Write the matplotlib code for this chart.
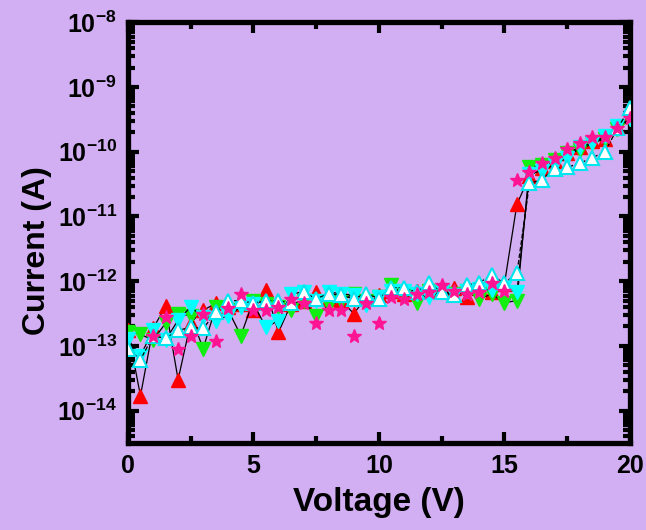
import numpy as np
import matplotlib
matplotlib.use('Agg')
import matplotlib.pyplot as plt
from matplotlib.ticker import FixedLocator, MultipleLocator, NullFormatter

plt.rcParams['font.family'] = ['Liberation Sans', 'DejaVu Sans']
plt.rcParams['mathtext.fontset'] = 'custom'
plt.rcParams['mathtext.rm'] = 'Liberation Sans:bold'
plt.rcParams['mathtext.bf'] = 'Liberation Sans:bold'
plt.rcParams['mathtext.default'] = 'bf'

# voltage sweep, 0.5 V steps
voltage = np.arange(0, 20.01, 0.5)

# log10(current)
red_up = [-12.76, -13.77, -12.73, -12.39, -13.52, -12.64, -12.45, -12.34, -12.40, -12.35,
          -12.45, -12.14, -12.79, -12.35, -12.30, -12.17, -12.28, -12.30, -12.50, -12.25,
          -12.22, -12.15, -12.20, -12.15, -12.15, -12.10, -12.10, -12.25, -12.10, -12.17,
          -12.05, -10.81, -10.38, -10.25, -10.15, -10.02, -9.93, -9.83, -9.80, -9.62, -9.45]
green_down = [-12.78, -12.82, -12.91, -12.65, -12.51, -12.53, -13.04, -12.40, -12.45, -12.84,
              -12.30, -12.35, -12.40, -12.45, -12.30, -12.54, -12.37, -12.30, -12.19, -12.30,
              -12.25, -12.06, -12.20, -12.33, -12.15, -12.15, -12.20, -12.15, -12.27, -12.20,
              -12.33, -12.30, -10.24, -10.20, -10.12, -10.02, -9.98, -9.87, -9.80, -9.65, -9.50]
cyan_down = [-12.90, -13.15, -12.76, -12.91, -12.60, -12.40, -12.55, -12.61, -12.53, -12.40,
             -12.35, -12.71, -12.61, -12.19, -12.17, -12.30, -12.17, -12.19, -12.22, -12.37,
             -12.25, -12.15, -12.15, -12.20, -12.25, -12.15, -12.22, -12.15, -12.12, -12.14,
             -12.11, -12.17, -10.35, -10.29, -10.20, -10.09, -9.92, -9.87, -9.75, -9.60, -9.50]
white_up = [-13.05, -13.21, -12.85, -12.88, -12.76, -12.71, -12.73, -12.48, -12.30, -12.30,
            -12.34, -12.30, -12.30, -12.34, -12.17, -12.27, -12.19, -12.22, -12.27, -12.19,
            -12.27, -12.10, -12.10, -12.17, -12.03, -12.17, -12.22, -12.06, -12.02, -11.91,
            -12.03, -11.88, -10.49, -10.43, -10.26, -10.24, -10.18, -10.09, -10.01, -9.64, -9.33]
pink_star = [np.nan, np.nan, -12.84, -12.56, -13.05, -12.85, -12.50, -12.93, -12.42, -12.20,
             -12.45, -12.45, -12.40, -12.27, -12.33, -12.65, -12.45, -12.45, -12.84, -12.33,
             -12.64, -12.25, -12.27, -12.20, -12.17, -12.06, -12.15, -12.20, -12.17, -12.03,
             -12.15, -10.43, -10.32, -10.18, -10.10, -9.95, -9.87, -9.78, -9.78, -9.64, -9.48]

ytick_exp = [-14, -13, -12, -11, -10, -9, -8]

bg = '#d2aef2'
fig = plt.figure(figsize=(6.46, 5.30), dpi=100, facecolor=bg)
ax = fig.add_axes([0.198, 0.164, 0.777, 0.794], facecolor=bg)

cur = lambda a: 10.0 ** np.array(a)

ax.plot(voltage, cur(red_up), '-', color='black', lw=0.9, marker='^', ms=9.5,
        mfc='#ff0000', mec='#ff0000', zorder=3)
ax.plot(voltage, cur(green_down), '-', color='black', lw=0.9, marker='v', ms=9.5,
        mfc='#11ee11', mec='#11ee11', zorder=3)
ax.plot(voltage, cur(cyan_down), '-', color='black', lw=0.9, marker='v', ms=9.5,
        mfc='#00ffff', mec='#00ffff', zorder=3)
ax.plot(voltage, cur(white_up), '--', color='black', lw=0.9, marker='^', ms=9.5,
        mfc='white', mec='#00e5ee', mew=1.5, zorder=4)
ax.plot(voltage, cur(pink_star), linestyle='none', marker='*', ms=10.5,
        mfc='#ff1493', mec='#ff1493', zorder=5)

ax.set_yscale('log')
ax.set_xlim(0, 20)
ax.set_ylim(10 ** -14.5, 1e-8)

ax.xaxis.set_major_locator(MultipleLocator(5))
ax.xaxis.set_minor_locator(MultipleLocator(2.5))
ax.yaxis.set_major_locator(FixedLocator([10.0 ** e for e in ytick_exp]))
ax.set_yticklabels([r'$\mathbf{10^{%d}}$' % e for e in ytick_exp])
ax.yaxis.set_minor_formatter(NullFormatter())

for s in ax.spines.values():
    s.set_linewidth(3.8)
ax.tick_params(which='both', direction='in', top=True, right=True, width=3)
ax.tick_params(which='major', length=8, labelsize=18, pad=8)
ax.tick_params(which='minor', length=5)
for lab in ax.get_xticklabels():
    lab.set_fontweight('bold')

ax.set_xlabel('Voltage (V)', fontsize=24, fontweight='bold', labelpad=6)
ax.set_ylabel('Current (A)', fontsize=23, fontweight='bold')
ax.yaxis.set_label_coords(-0.152, 0.458)

fig.savefig('out.png', dpi=100, facecolor=bg)
